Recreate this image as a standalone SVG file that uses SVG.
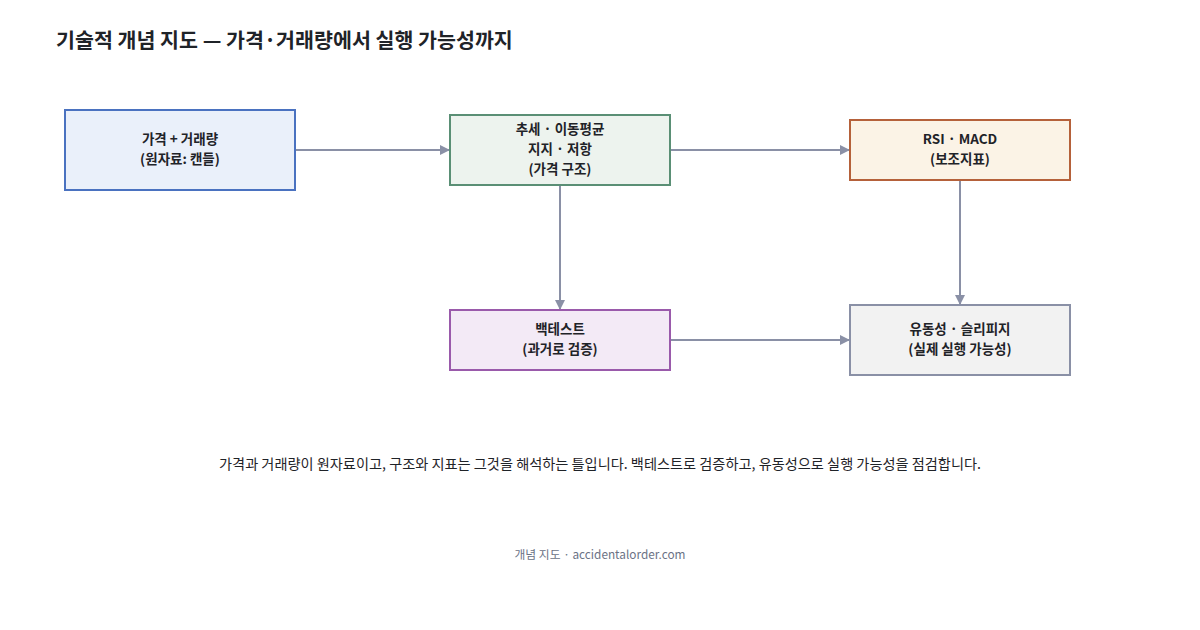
<svg xmlns="http://www.w3.org/2000/svg" width="1200" height="630" viewBox="0 0 1200 630">
<style>
text{font-family:"Noto Sans CJK KR","Noto Sans",sans-serif;fill:#1f2328}
.n{font-size:13.5px;font-weight:bold;text-anchor:middle}
.e{stroke:#8a90a6;stroke-width:2;fill:none;marker-end:url(#a)}
</style>
<defs><marker id="a" viewBox="0 0 10 10" refX="9" refY="5" markerWidth="5" markerHeight="5" orient="auto"><path d="M0,0L10,5L0,10z" fill="#8a90a6"/></marker></defs>
<rect width="1200" height="630" fill="#fff"/>
<text x="56" y="48" font-size="20.6" font-weight="bold">기술적 개념 지도 — 가격·거래량에서 실행 가능성까지</text>
<g id="edges">
<path class="e" d="M296,150H449"/>
<path class="e" d="M670,150H849"/>
<path class="e" d="M560,186V309"/>
<path class="e" d="M960,181V304"/>
<path class="e" d="M670,340H849"/>
</g>
<g id="n1"><rect x="65" y="110" width="230" height="80" fill="#eaf0fa" stroke="#4a72c0" stroke-width="2"/><text class="n" x="180" y="144">가격 + 거래량</text><text class="n" x="180" y="164">(원자료: 캔들)</text></g>
<g id="n2"><rect x="450" y="115" width="220" height="70" fill="#edf3ee" stroke="#5a8f75" stroke-width="2"/><text class="n" x="560" y="134">추세 · 이동평균</text><text class="n" x="560" y="154">지지 · 저항</text><text class="n" x="560" y="174">(가격 구조)</text></g>
<g id="n3"><rect x="850" y="120" width="220" height="60" fill="#fbf3e6" stroke="#b5613a" stroke-width="2"/><text class="n" x="960" y="144">RSI · MACD</text><text class="n" x="960" y="164">(보조지표)</text></g>
<g id="n4"><rect x="450" y="310" width="220" height="60" fill="#f3eaf6" stroke="#9a5aab" stroke-width="2"/><text class="n" x="560" y="334">백테스트</text><text class="n" x="560" y="354">(과거로 검증)</text></g>
<g id="n5"><rect x="850" y="305" width="220" height="70" fill="#f2f2f2" stroke="#8a90a6" stroke-width="2"/><text class="n" x="960" y="334">유동성 · 슬리피지</text><text class="n" x="960" y="354">(실제 실행 가능성)</text></g>
<text x="600" y="469" font-size="14.2" text-anchor="middle">가격과 거래량이 원자료이고, 구조와 지표는 그것을 해석하는 틀입니다. 백테스트로 검증하고, 유동성으로 실행 가능성을 점검합니다.</text>
<text x="600" y="559" font-size="11.8" text-anchor="middle" style="fill:#6b7285">개념 지도 · accidentalorder.com</text>
</svg>
